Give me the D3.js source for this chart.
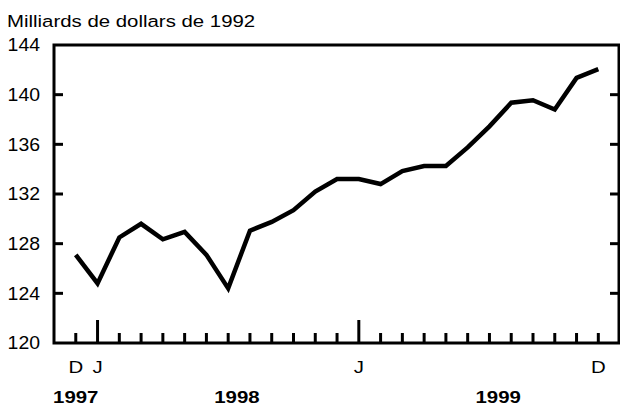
<!doctype html>
<html>
	<head>
		<meta charset="utf-8">
		<style type="text/css">
			body { margin: 0; background: #fff; }
			text { font-family: "Liberation Sans", Arial, sans-serif; fill: #000; }
		</style>
		<script src="https://d3js.org/d3.v7.min.js"></script>
	</head>
	<body>
		<svg width="620" height="408"></svg>
		<script type="text/javascript">

			// monthly values, Dec 1997 .. Dec 1999
			var values = [127.1, 124.8, 128.5, 129.6, 128.35, 128.95, 127.1, 124.4, 129.05, 129.75,
			              130.7, 132.2, 133.2, 133.2, 132.8, 133.85, 134.25, 134.25, 135.75, 137.45,
			              139.35, 139.55, 138.8, 141.35, 142.05];
			var yTicks = [120, 124, 128, 132, 136, 140, 144];
			var monthLabels = [{i: 0, t: "D"}, {i: 1, t: "J"}, {i: 13, t: "J"}, {i: 24, t: "D"}];
			var yearLabels = [{i: 0, t: "1997"}, {i: 7.4, t: "1998"}, {i: 19.4, t: "1999"}];
			var majorMonths = [1, 13];

			var svg = d3.select("svg");
			var m = {left: 54, right: 619, top: 45, bottom: 343};

			var x = d3.scaleLinear().domain([-1, 24.95]).range([m.left, m.right]);
			var y = d3.scaleLinear().domain([120, 144]).range([m.bottom, m.top]);

			// glyphs in the source are a bit wider than they are tall
			var sx = 1.2;

			// title
			svg.append("text")
				.attr("transform", `translate(7,27) scale(${sx},1)`)
				.style("font-size", "17px")
				.text("Milliards de dollars de 1992");

			// y tick labels
			svg.append("g").selectAll("text")
				.data(yTicks).enter()
				.append("text")
					.attr("transform", (d) => `translate(40,${y(d)}) scale(1.08,1)`)
					.attr("dy", "0.36em")
					.style("text-anchor", "end")
					.style("font-size", "18px")
					.text((d) => d);

			// inner ticks left and right
			var inner = yTicks.filter((d) => d > 120 && d < 144);
			var tk = svg.append("g").attr("stroke", "#000").attr("stroke-width", 3);
			tk.selectAll(".l").data(inner).enter().append("line")
				.attr("x1", m.left).attr("x2", m.left + 9)
				.attr("y1", (d) => y(d)).attr("y2", (d) => y(d));
			tk.selectAll(".r").data(inner).enter().append("line")
				.attr("x1", m.right - 9).attr("x2", m.right)
				.attr("y1", (d) => y(d)).attr("y2", (d) => y(d));

			// month ticks
			tk.selectAll(".m").data(d3.range(values.length)).enter().append("line")
				.attr("x1", (d) => x(d)).attr("x2", (d) => x(d))
				.attr("y1", m.bottom)
				.attr("y2", (d) => majorMonths.indexOf(d) >= 0 ? m.bottom - 23 : m.bottom - 10);

			// frame
			svg.append("rect")
				.attr("x", m.left).attr("y", m.top)
				.attr("width", m.right - m.left).attr("height", m.bottom - m.top)
				.attr("fill", "none")
				.attr("stroke", "#000")
				.attr("stroke-width", 3);

			// month / year labels
			svg.append("g").selectAll("text")
				.data(monthLabels).enter()
				.append("text")
					.attr("transform", (d) => `translate(${x(d.i)},373) scale(${sx},1)`)
					.style("text-anchor", "middle")
					.style("font-size", "17px")
					.text((d) => d.t);
			svg.append("g").selectAll("text")
				.data(yearLabels).enter()
				.append("text")
					.attr("transform", (d) => `translate(${x(d.i)},403) scale(${sx},1)`)
					.style("text-anchor", "middle")
					.style("font-size", "17px")
					.style("font-weight", "bold")
					.text((d) => d.t);

			// series
			var line = d3.line()
				.x((d, i) => x(i))
				.y((d) => y(d));
			svg.append("path")
				.datum(values)
				.attr("d", line)
				.attr("fill", "none")
				.attr("stroke", "#000")
				.attr("stroke-width", 4.5)
				.attr("stroke-linejoin", "miter");
		</script>
	</body>
</html>
